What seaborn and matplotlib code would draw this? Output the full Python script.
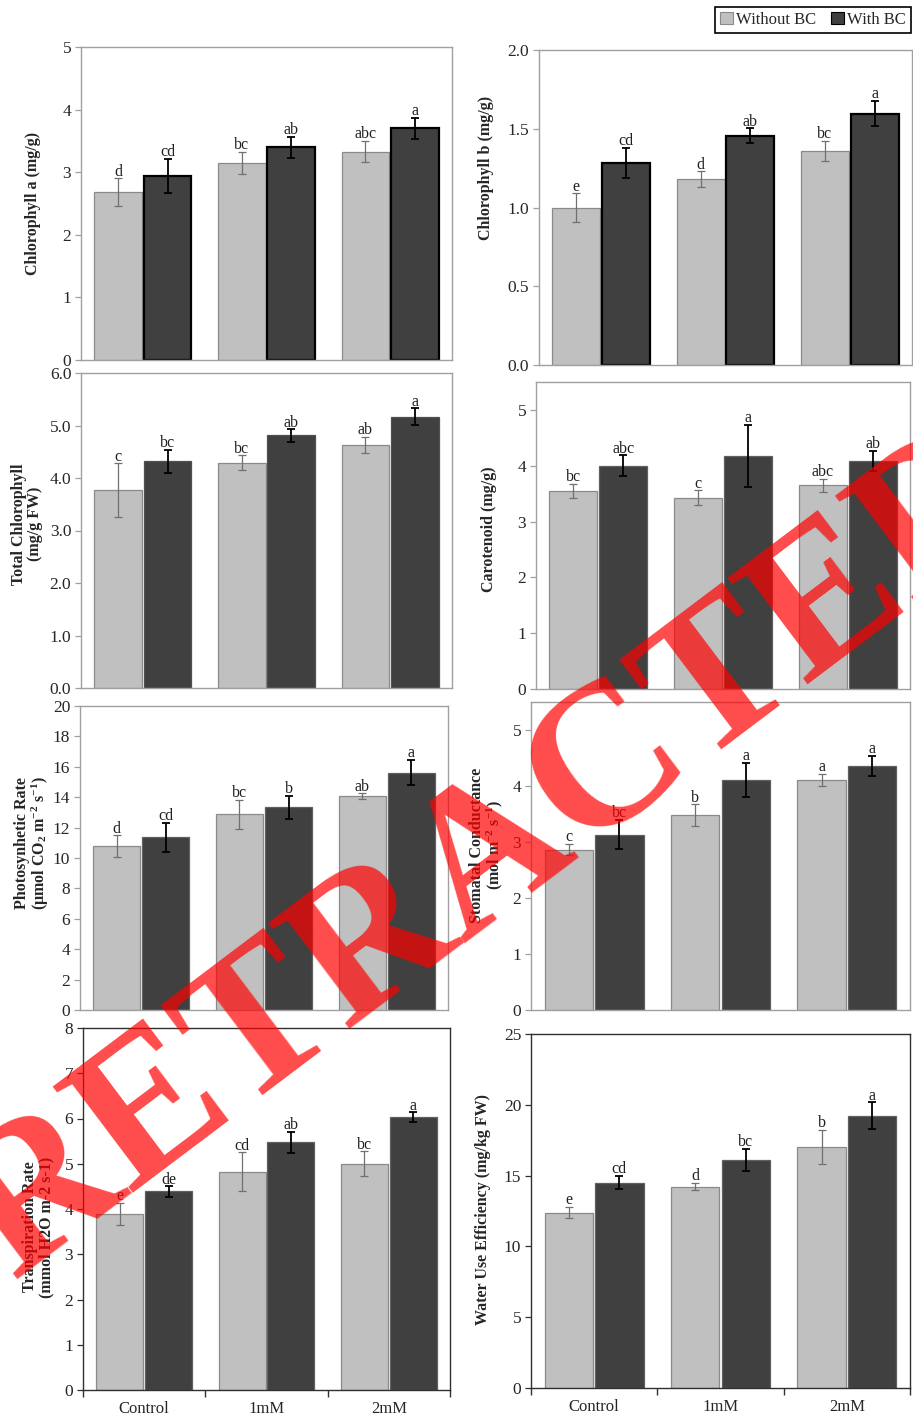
import matplotlib
matplotlib.use('Agg')
import matplotlib.pyplot as plt
import matplotlib.patches as mpatches
from matplotlib.ticker import FormatStrFormatter
import seaborn as sns
import pandas as pd
import numpy as np

sns.set_style('ticks')
plt.rcParams['font.family'] = ['Liberation Serif', 'DejaVu Serif']
plt.rcParams['mathtext.fontset'] = 'custom'
plt.rcParams['mathtext.rm'] = 'Liberation Serif:bold'
plt.rcParams['mathtext.it'] = 'Liberation Serif:italic:bold'
plt.rcParams['mathtext.bf'] = 'Liberation Serif:bold'
plt.rcParams['mathtext.default'] = 'rm'

categories = ['Control', '1mM', '2mM']
treatments = ['Without BC', 'With BC']

# chlorophyll a
chla_without = [2.68, 3.15, 3.33]
chla_with = [2.94, 3.40, 3.70]
chla_err_without = [0.22, 0.18, 0.17]
chla_err_with = [0.27, 0.17, 0.17]
chla_let_without = ['d', 'bc', 'abc']
chla_let_with = ['cd', 'ab', 'a']

# chlorophyll b
chlb_without = [1.00, 1.18, 1.36]
chlb_with = [1.285, 1.455, 1.595]
chlb_err_without = [0.09, 0.05, 0.063]
chlb_err_with = [0.095, 0.047, 0.08]
chlb_let_without = ['e', 'd', 'bc']
chlb_let_with = ['cd', 'ab', 'a']

# total chlorophyll
tchl_without = [3.77, 4.29, 4.63]
tchl_with = [4.32, 4.81, 5.17]
tchl_err_without = [0.51, 0.14, 0.16]
tchl_err_with = [0.22, 0.115, 0.155]
tchl_let_without = ['c', 'bc', 'ab']
tchl_let_with = ['bc', 'ab', 'a']

# carotenoid
car_without = [3.55, 3.43, 3.65]
car_with = [4.00, 4.18, 4.09]
car_err_without = [0.125, 0.13, 0.12]
car_err_with = [0.185, 0.555, 0.18]
car_let_without = ['bc', 'c', 'abc']
car_let_with = ['abc', 'a', 'ab']

# photosynthetic rate
pn_without = [10.77, 12.87, 14.05]
pn_with = [11.36, 13.33, 15.62]
pn_err_without = [0.72, 0.95, 0.2]
pn_err_with = [0.94, 0.78, 0.81]
pn_let_without = ['d', 'bc', 'ab']
pn_let_with = ['cd', 'b', 'a']

# stomatal conductance
gs_without = [2.86, 3.48, 4.11]
gs_with = [3.13, 4.11, 4.36]
gs_err_without = [0.1, 0.19, 0.11]
gs_err_with = [0.26, 0.30, 0.18]
gs_let_without = ['c', 'b', 'a']
gs_let_with = ['bc', 'a', 'a']

# transpiration rate
tr_without = [3.89, 4.82, 5.00]
tr_with = [4.39, 5.47, 6.03]
tr_err_without = [0.245, 0.43, 0.28]
tr_err_with = [0.115, 0.24, 0.105]
tr_let_without = ['e', 'cd', 'bc']
tr_let_with = ['de', 'ab', 'a']

# water use efficiency
wue_without = [12.39, 14.23, 17.03]
wue_with = [14.51, 16.11, 19.24]
wue_err_without = [0.39, 0.26, 1.19]
wue_err_with = [0.48, 0.77, 0.94]
wue_let_without = ['e', 'd', 'b']
wue_let_with = ['cd', 'bc', 'a']

W, H = 913, 1415
fig = plt.figure(figsize=(W / 100, H / 100), dpi=100)

light, dark = '#C0C0C0', '#404040'

# (values, errors, letters, ylabel, box px (l, t, r, b), ylim, ticks, fmt, label centre, bottom row, dark edge)
panels = [
    (chla_without, chla_with, chla_err_without, chla_err_with, chla_let_without, chla_let_with,
     'Chlorophyll a (mg/g)', (81, 47, 452, 360), 5, np.arange(0, 6, 1), '%d', (-0.13, 0.5), False, 'black'),
    (chlb_without, chlb_with, chlb_err_without, chlb_err_with, chlb_let_without, chlb_let_with,
     'Chlorophyll b (mg/g)', (539, 50, 912, 365), 2, np.arange(0, 2.01, 0.5), '%.1f', (-0.143, 0.625), False, 'black'),
    (tchl_without, tchl_with, tchl_err_without, tchl_err_with, tchl_let_without, tchl_let_with,
     'Total Chlorophyll\n(mg/g FW)', (81, 373, 452, 688), 6, np.arange(0, 6.01, 1), '%.1f', (-0.146, 0.52), False, '#505050'),
    (car_without, car_with, car_err_without, car_err_with, car_let_without, car_let_with,
     'Carotenoid (mg/g)', (536, 382, 910, 689), 5.5, np.arange(0, 6, 1), '%d', (-0.125, 0.52), False, '#606060'),
    (pn_without, pn_with, pn_err_without, pn_err_with, pn_let_without, pn_let_with,
     'Photosynhetic Rate\n(µmol CO$_2$ m$^{-2}$ s$^{-1}$)', (80, 706, 448, 1010), 20, np.arange(0, 21, 2), '%d', (-0.13, 0.55), False, '#606060'),
    (gs_without, gs_with, gs_err_without, gs_err_with, gs_let_without, gs_let_with,
     'Stomatal Conductance\n(mol m$^{-2}$ s$^{-1}$)', (531, 702, 910, 1010), 5.5, np.arange(0, 6, 1), '%d', (-0.116, 0.535), False, '#606060'),
    (tr_without, tr_with, tr_err_without, tr_err_with, tr_let_without, tr_let_with,
     'Transpiration Rate\n(mmol H2O m-2 s-1)', (83, 1028, 450, 1390), 8, np.arange(0, 9, 1), '%d', (-0.122, 0.45), True, '#606060'),
    (wue_without, wue_with, wue_err_without, wue_err_with, wue_let_without, wue_let_with,
     'Water Use Efficiency (mg/kg FW)', (531, 1034, 910, 1388), 25, np.arange(0, 26, 5), '%d', (-0.127, 0.505), True, '#606060'),
]

for (v0, v1, e0, e1, l0, l1, ylabel, box, ymax, yticks, fmt, lpos, bottom, dedge) in panels:
    l, t, r, b = box
    ax = fig.add_axes([l / W, 1 - b / H, (r - l) / W, (b - t) / H])
    df = pd.DataFrame({
        'Treatment': categories * 2,
        'BC': [treatments[0]] * 3 + [treatments[1]] * 3,
        'value': list(v0) + list(v1),
    })
    sns.barplot(data=df, x='Treatment', y='value', hue='BC', hue_order=treatments,
                palette=[light, dark], errorbar=None, width=0.8, gap=0.04,
                saturation=1, legend=False, ax=ax)
    errs = [e0, e1]
    lets = [l0, l1]
    bar_groups = list(ax.containers)[:2]
    for i, cont in enumerate(bar_groups):
        for j, bar in enumerate(cont.patches):
            if i == 0:
                bar.set_edgecolor('#8a8a8a'); bar.set_linewidth(0.9)
                ecol, elw = '#707070', 0.9
            else:
                bar.set_edgecolor(dedge); bar.set_linewidth(1.6 if dedge == 'black' else 0.9)
                ecol, elw = 'black', 1.3
            x = bar.get_x() + bar.get_width() / 2
            h = bar.get_height()
            ax.errorbar(x, h, yerr=errs[i][j], color=ecol, lw=elw, capsize=3, capthick=elw, zorder=5)
            ax.text(x, h + errs[i][j] - 0.004 * ymax, lets[i][j], ha='center', va='bottom',
                    fontsize=11.5, color='#202020', zorder=6)
    ax.set_ylim(0, ymax)
    ax.set_xlim(-0.5, 2.5)
    ax.set_yticks(yticks)
    ax.yaxis.set_major_formatter(FormatStrFormatter(fmt))
    scol = '#303030' if bottom else '#a0a0a0'
    for s in ax.spines.values():
        s.set_visible(True)
        s.set_color(scol)
        s.set_linewidth(1.0)
    ax.tick_params(axis='y', direction='out', length=4, width=0.9, color=scol, labelsize=12.5, pad=3)
    ax.set_xlabel('')
    if bottom:
        ax.set_xticks([-0.5, 0.5, 1.5, 2.5], minor=True)
        ax.tick_params(axis='x', which='minor', direction='out', length=5, width=1, color='#303030')
        ax.tick_params(axis='x', which='major', length=0, labelsize=12, pad=8)
    else:
        ax.tick_params(axis='x', length=0, labelbottom=False)
    ax.set_ylabel(ylabel, fontsize=11.5, fontweight='bold', linespacing=1.0, va='center')
    ax.yaxis.set_label_coords(*lpos)

# legend
handles = [mpatches.Patch(facecolor=light, edgecolor='#8a8a8a', lw=0.8),
           mpatches.Patch(facecolor=dark, edgecolor='black', lw=0.8)]
leg = fig.legend(handles=handles, labels=treatments, loc='upper right',
                 bbox_to_anchor=(911 / W, 1 - 7 / H), ncol=2, fontsize=12,
                 frameon=True, fancybox=False, edgecolor='black', framealpha=1,
                 handlelength=0.75, handleheight=0.75, handletextpad=0.2,
                 columnspacing=0.9, borderpad=0.3, borderaxespad=0)
leg.get_frame().set_linewidth(1.2)

# retraction watermark
fig.text(492 / W, 1 - 858 / H, 'RETRACTED', rotation=37, fontsize=146, fontweight='bold',
         color='red', alpha=0.7, ha='center', va='center', family='Liberation Serif', zorder=10)

fig.savefig('out.png', dpi=100)
